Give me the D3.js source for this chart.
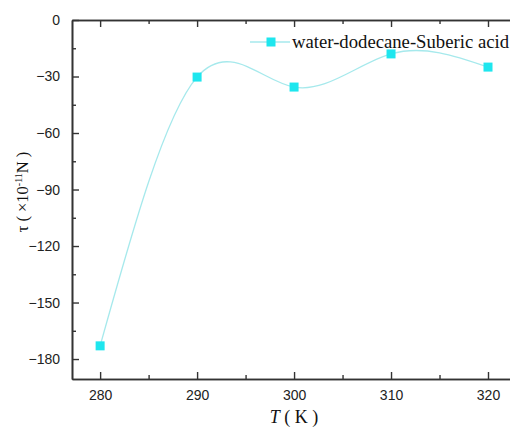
<!DOCTYPE html>
<html>
<head>
<meta charset="utf-8">
<script src="https://cdn.jsdelivr.net/npm/d3@7"></script>
<style>
body { margin: 0; background: #fff; overflow: hidden; }
svg { display: block; }
</style>
</head>
<body>
<svg id="chart" width="510" height="429"></svg>
<script>
// data
var temps = [280, 290, 300, 310, 320];
var tau = [-173, -30.3, -35.6, -18, -25];
var xTicks = [280, 290, 300, 310, 320];
var yTicks = [0, -30, -60, -90, -120, -150, -180];
var seriesName = "water-dodecane-Suberic acid";

var svg = d3.select("#chart");
var plotL = 72, plotT = 20, plotR = 520, plotB = 379;

var x = d3.scaleLinear().domain([277.1, 323.3]).range([plotL, plotR]);
var y = d3.scaleLinear().domain([-190.6, 0]).range([plotB, plotT]);

var lineColor = "#a6e9ec";
var markColor = "#1ee6ee";
var axisColor = "#333";

//axes (ticks point inside)
function styleAxis(g){
	g.selectAll(".domain").attr("stroke", axisColor).attr("stroke-width", 1.6);
	g.selectAll(".tick line").attr("stroke", axisColor).attr("stroke-width", 1.4);
	g.selectAll("text").attr("font-family", "Liberation Sans, Arial, sans-serif")
		.attr("font-size", "14px").attr("fill", "#222");
}

var xMinor = d3.range(285, 323, 10);
var yMinor = d3.range(-15, -190, -30);

svg.append("g")
	.attr("transform", "translate(0," + plotB + ")")
	.call(d3.axisBottom(x).tickValues(xTicks).tickSize(-7).tickPadding(11).tickSizeOuter(0))
	.call(styleAxis);
svg.append("g")
	.attr("transform", "translate(0," + plotB + ")")
	.call(d3.axisBottom(x).tickValues(xMinor).tickSize(-4).tickFormat("").tickSizeOuter(0))
	.call(styleAxis);

svg.append("g")
	.attr("transform", "translate(0," + plotT + ")")
	.call(d3.axisTop(x).tickValues(xTicks).tickSize(-7).tickFormat("").tickSizeOuter(0))
	.call(styleAxis);
svg.append("g")
	.attr("transform", "translate(0," + plotT + ")")
	.call(d3.axisTop(x).tickValues(xMinor).tickSize(-4).tickFormat("").tickSizeOuter(0))
	.call(styleAxis);

svg.append("g")
	.attr("transform", "translate(" + plotL + ",0)")
	.call(d3.axisLeft(y).tickValues(yTicks).tickSize(-7).tickPadding(12).tickSizeOuter(0))
	.call(styleAxis);
svg.append("g")
	.attr("transform", "translate(" + plotL + ",0)")
	.call(d3.axisLeft(y).tickValues(yMinor).tickSize(-4).tickFormat("").tickSizeOuter(0))
	.call(styleAxis);

//curve
var pts = temps.map(function(d, i){ return [d, tau[i]]; });
var line = d3.line()
	.x(function(d){ return x(d[0]); })
	.y(function(d){ return y(d[1]); })
	.curve(d3.curveNatural);

svg.append("path")
	.datum(pts)
	.attr("fill", "none")
	.attr("stroke", lineColor)
	.attr("stroke-width", 1.3)
	.attr("d", line);

svg.selectAll("rect.mark")
	.data(pts)
  .enter().append("rect")
	.attr("class", "mark")
	.attr("x", function(d){ return x(d[0]) - 4.5; })
	.attr("y", function(d){ return y(d[1]) - 4.5; })
	.attr("width", 9)
	.attr("height", 9)
	.attr("fill", markColor);

//legend
var lg = svg.append("g").attr("transform", "translate(0,42)");
lg.append("line").attr("x1", 250).attr("x2", 290).attr("y1", 0).attr("y2", 0)
	.attr("stroke", lineColor).attr("stroke-width", 1.3);
lg.append("rect").attr("x", 266.5).attr("y", -4.5).attr("width", 9).attr("height", 9).attr("fill", markColor);
lg.append("text").attr("x", 292).attr("y", 6)
	.attr("font-family", "Liberation Serif, Times New Roman, serif")
	.attr("font-size", "18.7px").attr("fill", "#111")
	.text(seriesName);

//axis titles
var xt = svg.append("text")
	.attr("x", 294).attr("y", 423)
	.attr("text-anchor", "middle")
	.attr("font-family", "Liberation Serif, Times New Roman, serif")
	.attr("font-size", "18px").attr("fill", "#111");
xt.append("tspan").attr("font-style", "italic").text("T");
xt.append("tspan").text(" ( K )");

var yt = svg.append("text")
	.attr("transform", "translate(28,192) rotate(-90)")
	.attr("text-anchor", "middle")
	.attr("font-family", "Liberation Serif, Times New Roman, serif")
	.attr("font-size", "16.5px").attr("fill", "#111");
yt.append("tspan").text("τ ( ×10");
yt.append("tspan").attr("font-size", "10px").attr("dy", -6).text("-11");
yt.append("tspan").attr("dy", 6).text("N )");
</script>
</body>
</html>
